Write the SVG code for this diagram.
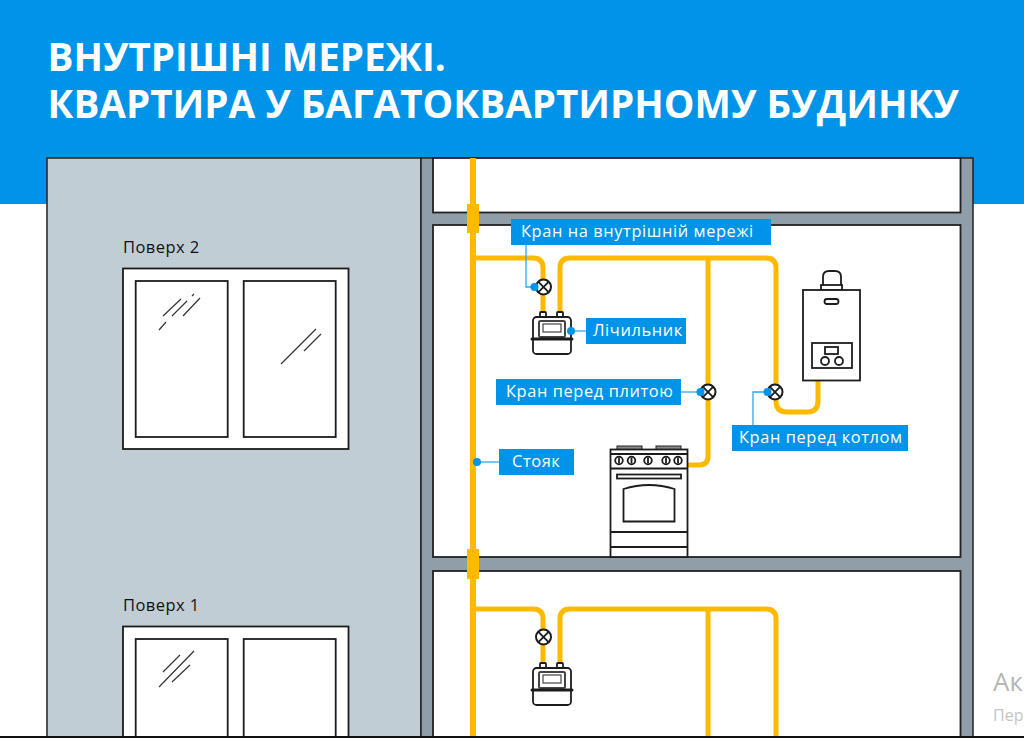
<svg xmlns="http://www.w3.org/2000/svg" width="1024" height="738" viewBox="0 0 1024 738">
<style>
text{font-family:"Open Sans","Noto Sans",sans-serif}
.title{font-size:38.6px;font-weight:700;fill:#fff}
.lab{font-size:16.4px;fill:#fff;letter-spacing:.6px}
.floor{font-size:16.5px;fill:#111;font-weight:500;letter-spacing:.45px}
.box{fill:#0094e8}
.pipe{fill:none;stroke:#ffb900;stroke-width:5}
.riser{stroke-width:6}
.lead{fill:none;stroke:#29a9ee;stroke-width:1.3}
.dot{fill:#0094e8}
.ln{fill:none;stroke:#1c1c1c;stroke-width:1.800}
.gl{fill:none;stroke:#333;stroke-width:1.2}
.win{fill:#fff;stroke:#1c1c1c;stroke-width:1.8}
.slab{fill:#8f9ea8}
.icon{fill:#fff;stroke:#1c1c1c;stroke-width:1.800}
</style>
<defs>
<g id="valve"><circle r="7.5" fill="#fff" stroke="#1c1c1c" stroke-width="2"/><path d="M-5.300-5.300L5.300 5.300M5.300-5.300L-5.300 5.300" class="ln"/></g>
<g id="meter">
<rect x="-12" y="-1" width="6" height="6" rx="1" class="icon"/><rect x="5" y="-1" width="6" height="6" rx="1" class="icon"/>
<rect x="-19" y="4" width="38" height="37" rx="3.500" class="icon"/>
<rect x="-13" y="8" width="26" height="16" rx="1.500" fill="#fff" stroke="#444" stroke-width="2"/>
<rect x="-9" y="11" width="18" height="8" fill="#fff" stroke="#444" stroke-width="1.200"/>
<path d="M-20 26H20" stroke="#1c1c1c" stroke-width="3" stroke-linecap="round"/>
</g>
</defs>
<rect width="1024" height="738" fill="#fff"/>
<rect width="1024" height="204" fill="#0094e8"/>
<g id="title"><text class="title" x="47.500" y="71">ВНУТРІШНІ МЕРЕЖІ.</text><text class="title" x="47.500" y="118">КВАРТИРА У БАГАТОКВАРТИРНОМУ БУДИНКУ</text></g>
<g id="building">
<rect x="47" y="158" width="374" height="580" fill="#c1cdd4" stroke="#222" stroke-width="1.500"/>
<rect x="421" y="158" width="552" height="580" class="slab" stroke="#222" stroke-width="1.500"/>
<rect x="433" y="158" width="527.500" height="54.500" fill="#fff" stroke="#222" stroke-width="1.800"/>
<rect x="433" y="225" width="527.500" height="332" fill="#fff" stroke="#222" stroke-width="1.800"/>
<rect x="433" y="571" width="527.500" height="167" fill="#fff" stroke="#222" stroke-width="1.800"/>
</g>
<g id="floor-2">
<text class="floor" x="123" y="253">Поверх 2</text>
<rect x="123" y="268.500" width="225.500" height="180.500" class="win"/>
<rect x="135.700" y="281" width="92" height="156" class="win"/>
<rect x="243.700" y="281" width="92" height="156" class="win"/>
<path class="gl" d="M163 316L181 299M172 316L187 301M183 316L200 298M192 296L194 294M159 330L166 322M281 364L316 329M304 351L321 334"/>
</g>
<g id="floor-1">
<text class="floor" x="123" y="611">Поверх 1</text>
<rect x="123" y="626.500" width="225.500" height="115" class="win"/>
<rect x="135.700" y="639" width="92" height="105" class="win"/>
<rect x="243.700" y="639" width="92" height="105" class="win"/>
<path class="gl" d="M163 672L180 655M159 687L194 651M172 682L190 665"/>
</g>
<g id="connectors">
<path class="pipe riser" d="M473 158V738"/>
<rect x="467" y="204" width="12" height="29" fill="#ffb900"/>
<rect x="467" y="549" width="12" height="30" fill="#ffb900"/>
<path class="pipe" d="M473 258H533Q543 258 543 268V317"/>
<path class="pipe" d="M560 317V268Q560 258 570 258H766Q776 258 776 268V401Q776 412 787 412H807Q818 412 818 401V380"/>
<path class="pipe" d="M708 258V456Q708 465 699 465H688"/>
<path class="pipe" d="M473 609H533Q543 609 543 619V668"/>
<path class="pipe" d="M560 668V619Q560 609 570 609H766Q776 609 776 619V738M708 609V738"/>
</g>
<g id="meter-2"><use href="#meter" transform="translate(552 313)"/></g>
<g id="meter-1"><use href="#meter" transform="translate(552 664)"/></g>
<g id="valve-riser-2"><use href="#valve" x="543.500" y="287"/></g>
<g id="valve-riser-1"><use href="#valve" x="543.500" y="637"/></g>
<g id="valve-stove"><use href="#valve" x="708" y="392"/></g>
<g id="valve-boiler"><use href="#valve" x="775" y="392"/></g>
<g id="boiler">
<path d="M823 290V277Q823 271 829 271H835Q841 271 841 277V290" class="icon"/>
<rect x="821" y="285" width="21" height="5" class="icon"/>
<rect x="803" y="290" width="57" height="90.500" class="icon"/>
<rect x="824.500" y="299" width="14" height="5" rx="2.500" class="icon"/>
<rect x="812" y="343" width="40" height="25" class="icon"/>
<rect x="825" y="347" width="13" height="7" class="icon"/>
<circle cx="825" cy="361" r="4" class="icon"/><circle cx="839" cy="361" r="4" class="icon"/>
</g>
<g id="stove">
<rect x="617" y="446" width="25" height="4" fill="#888" stroke="#222" stroke-width="1"/>
<rect x="656" y="446" width="25" height="4" fill="#888" stroke="#222" stroke-width="1"/>
<rect x="610.500" y="449.500" width="77" height="107.500" class="icon"/>
<path class="ln" d="M610.500 454H687.500M610.500 468.500H687.500M610.500 532H687.500M610.500 547H687.500"/>
<g class="icon"><circle cx="619" cy="460.500" r="3.800"/><circle cx="631.500" cy="460.500" r="3.800"/><circle cx="648" cy="460.500" r="3.800"/><circle cx="666" cy="460.500" r="3.800"/><circle cx="678" cy="460.500" r="3.800"/></g>
<path class="ln" d="M619 457.500V463.500M631.500 457.500V463.500M648 457.500V463.500M666 457.500V463.500M678 457.500V463.500"/>
<rect x="617" y="474.500" width="64" height="4" class="icon"/>
<path d="M623.500 521.500V489Q649 481 674.500 489V521.500Z" class="icon"/>
</g>
<g id="label-riser"><path class="lead" d="M477 462H499"/><circle class="dot" cx="477" cy="462" r="4"/><rect class="box" x="499" y="449" width="75" height="26"/><text class="lab" x="512" y="467">Стояк</text></g>
<g id="label-tap"><path class="lead" d="M526 245V287H534"/><circle class="dot" cx="534.500" cy="287" r="4"/><rect class="box" x="511" y="219" width="260" height="26"/><text class="lab" x="521" y="237">Кран на внутрішній мережі</text></g>
<g id="label-meter"><path class="lead" d="M571 331H586"/><circle class="dot" cx="571" cy="331" r="4"/><rect class="box" x="586" y="318" width="100" height="26"/><text class="lab" x="593" y="336">Лічильник</text></g>
<g id="label-stove"><path class="lead" d="M681 392H700"/><circle class="dot" cx="700.500" cy="392" r="4"/><rect class="box" x="496" y="379" width="185" height="26"/><text class="lab" x="506" y="397">Кран перед плитою</text></g>
<g id="label-boiler"><path class="lead" d="M753 425V392H767"/><circle class="dot" cx="767.500" cy="392" r="4"/><rect class="box" x="732" y="425" width="176" height="26"/><text class="lab" x="739" y="443">Кран перед котлом</text></g>
<g id="watermark"><text x="993" y="691" font-size="26" fill="#b5b5b5">Ак</text><text x="993" y="721" font-size="16" fill="#c4c4c4">Пер</text></g>
<rect y="736" width="1024" height="2" fill="#111"/>
</svg>
